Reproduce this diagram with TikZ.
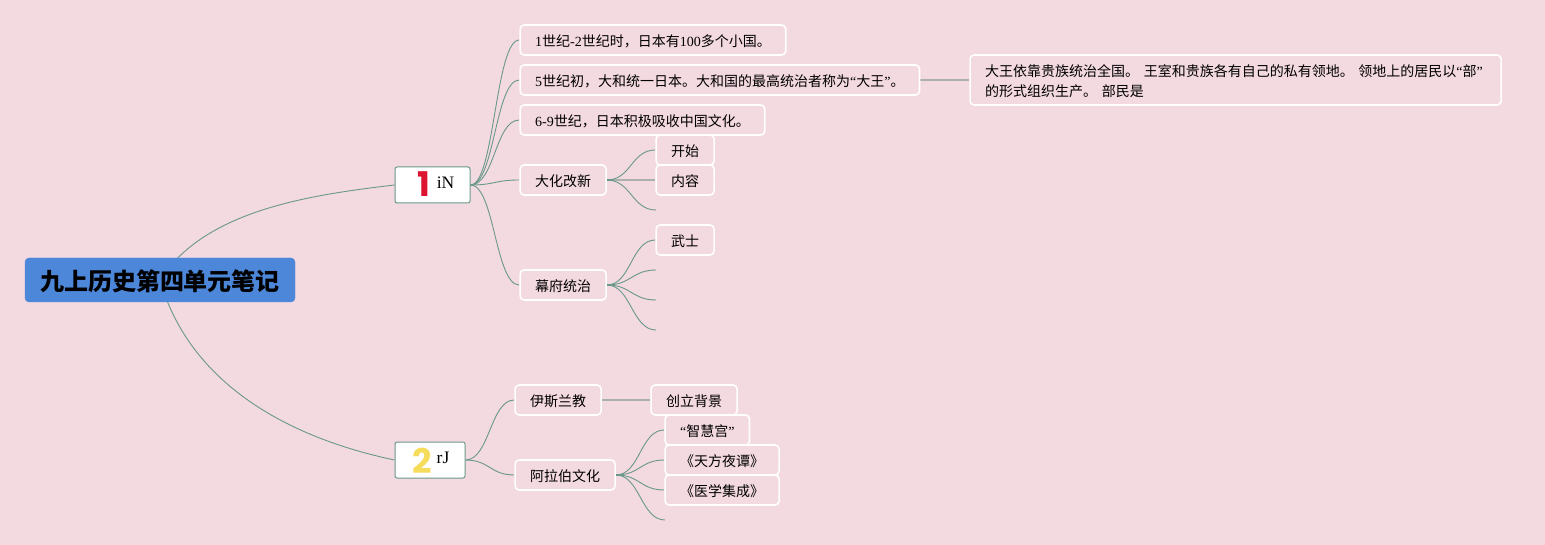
\documentclass[tikz,border=0pt]{standalone}
\usepackage{fontspec}
\usepackage{xcolor}
\usetikzlibrary{backgrounds}
\setmainfont{Liberation Serif}
\newfontfamily\cjk{Noto Sans CJK SC}
\newfontfamily\numfont{Poppins}
\newcommand{\zh}[1]{{\cjk #1}}
\definecolor{pagepink}{HTML}{F3D9E0}
\definecolor{rootblue}{HTML}{4C87D9}
\definecolor{linkgreen}{HTML}{6A988B}
\definecolor{linkgrey}{HTML}{ABB0AC}
\definecolor{numred}{HTML}{DC1430}
\definecolor{numyellow}{HTML}{F5DC5A}
\tikzset{
    root-box/.style = {fill=rootblue, draw=rootblue, rectangle, rounded corners=4pt, inner sep=0pt, minimum width=270pt, minimum height=44pt, text height=24pt, text depth=3pt, font=\fontsize{24}{28}\selectfont\bfseries},
    main-box/.style = {draw=linkgreen, fill=white, line width=1pt, rectangle, rounded corners=2pt, inner sep=0pt, minimum height=36pt},
    topic-box/.style = {draw=white, fill=pagepink, line width=1.6pt, rectangle, rounded corners=4pt, inner xsep=15pt, inner ysep=0pt, minimum height=30pt, anchor=west, xshift=-0.7pt, text height=15pt, text depth=2.4pt, font=\fontsize{14}{20}\selectfont},
    note-box/.style = {topic-box, minimum height=50pt, text width=501pt, align=left, text height=12pt, text depth=19.4pt},
    num-mark/.style = {inner sep=0pt, font=\numfont\fontsize{34}{34}\selectfont\bfseries},
    main-text/.style = {inner sep=0pt, font=\fontsize{17.5}{20}\selectfont},
    link/.style = {draw=linkgreen, line width=0.9pt},
    link-curve/.style = {link, out=0, in=180, out distance=24pt, in distance=24pt},
    link-straight/.style = {draw=linkgrey, line width=1.5pt},
    link-stub/.style = {draw=linkgreen, line width=1.8pt},
}

\begin{document}
\begin{tikzpicture}[x=1pt,y=-1pt]
\useasboundingbox (0,0) rectangle (1545,545);

\node[root-box] (root) at (160,280) {\zh{九上历史第四单元笔记}};

\node[main-box, minimum width=75pt] (japan) at (432.5,185) {};
\node[num-mark, text=numred] (japan-num) at (423.5,184) {1};
\node[main-text] (japan-text) at (445.5,183) {iN};
\node[main-box, minimum width=70pt] (arab) at (430,460) {};
\node[num-mark, text=numyellow] (arab-num) at (422.5,460.5) {2};
\node[main-text] (arab-text) at (443,458) {rJ};

\node[topic-box] (tiny) at (520,40) {1\zh{世纪}-2\zh{世纪时，日本有}100\zh{多个小国。}};
\node[topic-box] (yamato) at (520,80) {5\zh{世纪初，大和统一日本。大和国的最高统治者称为}“\zh{大王}”\zh{。}};
\node[topic-box] (absorb) at (520,120) {6-9\zh{世纪，日本积极吸收中国文化。}};
\node[topic-box] (taika) at (520,180) {\zh{大化改新}};
\node[topic-box] (bakufu) at (520,285) {\zh{幕府统治}};
\node[note-box] (rule) at (970,80) {\zh{大王依靠贵族统治全国。} \zh{王室和贵族各有自己的私有领地。} \zh{领地上的居民以}“\zh{部}”\\\zh{的形式组织生产。} \zh{部民是}};
\node[topic-box] (start) at (656,150) {\zh{开始}};
\node[topic-box] (content) at (656,180) {\zh{内容}};
\node[topic-box] (samurai) at (656,240) {\zh{武士}};
\node[topic-box] (islam) at (515,400) {\zh{伊斯兰教}};
\node[topic-box] (origin) at (651,400) {\zh{创立背景}};
\node[topic-box] (culture) at (515,475) {\zh{阿拉伯文化}};
\node[topic-box] (wisdom) at (665,430) {“\zh{智慧宫}”};
\node[topic-box] (nights) at (665,460) {\zh{《天方夜谭》}};
\node[topic-box] (canon) at (665,490) {\zh{《医学集成》}};

\coordinate (taika-end) at (656,210);
\coordinate (bakufu-end-a) at (656,270);
\coordinate (bakufu-end-b) at (656,300);
\coordinate (bakufu-end-c) at (656,330);
\coordinate (culture-end) at (665,520);

\begin{scope}[on background layer]
\fill[pagepink] (0,0) rectangle (1545,545);
\draw[link] (root.center) .. controls (205,210) and (310,195) .. (japan.west);
\draw[link] (root.center) .. controls (190,385) and (290,438) .. (arab.west);
\draw (japan.east) edge[link-curve] (tiny.west) edge[link-curve] (yamato.west) edge[link-curve] (absorb.west) edge[link-curve] (taika.west) edge[link-curve] (bakufu.west);
\draw (taika.east) edge[link-curve] (start.west) edge[link-curve] (taika-end);
\draw (bakufu.east) edge[link-curve] (samurai.west) edge[link-curve] (bakufu-end-a) edge[link-curve] (bakufu-end-b) edge[link-curve] (bakufu-end-c);
\draw (arab.east) edge[link-curve] (islam.west) edge[link-curve] (culture.west);
\draw (culture.east) edge[link-curve] (wisdom.west) edge[link-curve] (nights.west) edge[link-curve] (canon.west) edge[link-curve] (culture-end);
\draw[link-straight] (taika.east) -- (content.west);
\draw[link-straight] (yamato.east) -- (rule.west);
\draw[link-straight] (islam.east) -- (origin.west);
\draw[link-stub] (taika.east) -- ++(7,0);
\draw[link-stub] (bakufu.east) -- ++(7,0);
\draw[link-stub] (culture.east) -- ++(7,0);
\end{scope}
\end{tikzpicture}
\end{document}
